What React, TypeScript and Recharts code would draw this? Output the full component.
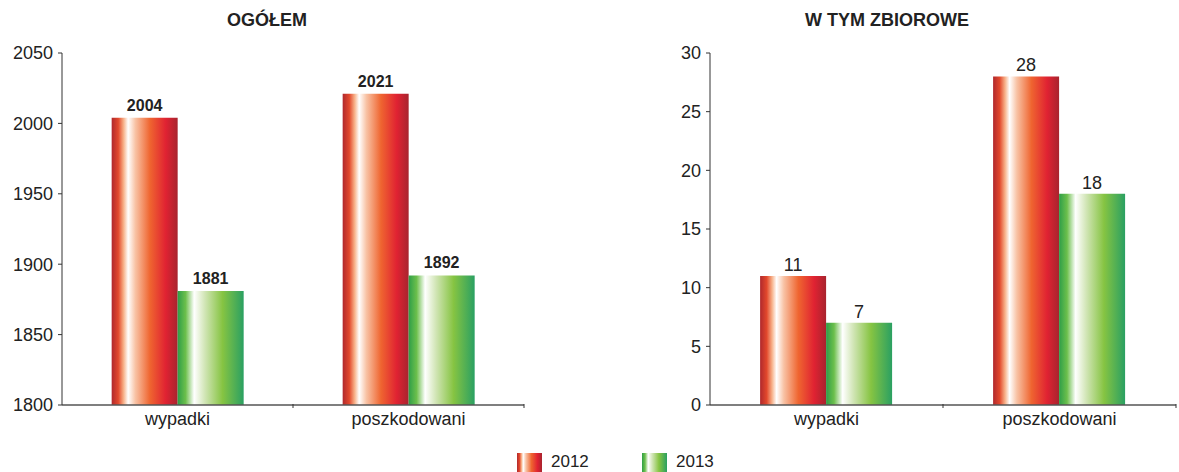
import { BarChart, Bar, XAxis, YAxis, LabelList } from "recharts";

const CATEGORIES = ["wypadki", "poszkodowani"];
const TOTAL_2012 = [2004, 2021];
const TOTAL_2013 = [1881, 1892];
const GROUP_2012 = [11, 28];
const GROUP_2013 = [7, 18];
const TOTAL_TICKS = [1800, 1850, 1900, 1950, 2000, 2050];
const GROUP_TICKS = [0, 5, 10, 15, 20, 25, 30];

const totalData = CATEGORIES.map((name, i) => ({
  name,
  y2012: TOTAL_2012[i],
  y2013: TOTAL_2013[i],
}));
const groupData = CATEGORIES.map((name, i) => ({
  name,
  y2012: GROUP_2012[i],
  y2013: GROUP_2013[i],
}));

const FONT = "Arial, 'Liberation Sans', sans-serif";

function Gradients({ id }: { id: string }) {
  return (
    <defs>
      <linearGradient id={`red-${id}`} x1="0" y1="0" x2="1" y2="0">
        <stop offset="0" stopColor="#b0282c" />
        <stop offset="0.1" stopColor="#e2482c" />
        <stop offset="0.18" stopColor="#f7b088" />
        <stop offset="0.25" stopColor="#ffffff" />
        <stop offset="0.36" stopColor="#f8c2a4" />
        <stop offset="0.58" stopColor="#ef6530" />
        <stop offset="0.82" stopColor="#e02232" />
        <stop offset="1" stopColor="#a8242e" />
      </linearGradient>
      <linearGradient id={`green-${id}`} x1="0" y1="0" x2="1" y2="0">
        <stop offset="0" stopColor="#2e9e48" />
        <stop offset="0.12" stopColor="#6cbf4c" />
        <stop offset="0.25" stopColor="#ffffff" />
        <stop offset="0.42" stopColor="#cfe4b2" />
        <stop offset="0.68" stopColor="#86c442" />
        <stop offset="1" stopColor="#2aa062" />
      </linearGradient>
    </defs>
  );
}

const tickStyle = { fontSize: 18, fill: "#222", fontFamily: FONT };

// category tick label plus Excel-style tick mark at the right edge of each band
function makeCategoryTick(band: number) {
  return function CategoryTick(props: any) {
    const { x, y, payload } = props;
    return (
      <g>
        <line
          x1={x + band / 2}
          x2={x + band / 2}
          y1={y - 8}
          y2={y - 4}
          stroke="#333"
        />
        <text
          x={x}
          y={y}
          dy="0.71em"
          textAnchor="middle"
          fontSize={18}
          fill="#222"
          fontFamily={FONT}
        >
          {payload.value}
        </text>
      </g>
    );
  };
}

const titleStyle = {
  position: "absolute" as const,
  top: 10,
  transform: "translateX(-50%)",
  fontSize: 18,
  fontWeight: "bold" as const,
  color: "#222",
  whiteSpace: "nowrap" as const,
};

export default function App() {
  return (
    <div
      style={{
        position: "absolute",
        left: 0,
        top: 0,
        width: 1179,
        height: 472,
        background: "#fff",
        fontFamily: FONT,
        overflow: "hidden",
      }}
    >
      <div style={{ ...titleStyle, left: 267 }}>OGÓŁEM</div>
      <div style={{ ...titleStyle, left: 887 }}>W TYM ZBIOROWE</div>

      <div style={{ position: "absolute", left: 0, top: 0 }}>
        <BarChart
          width={590}
          height={472}
          data={totalData}
          margin={{ top: 53, right: 66, bottom: 37, left: 0 }}
          barCategoryGap="21.5%"
          barGap={0}
        >
          <Gradients id="a" />
          <XAxis
            dataKey="name"
            tick={makeCategoryTick(231)}
            tickLine={false}
            axisLine={{ stroke: "#555", strokeWidth: 1.5 }}
            height={30}
            tickSize={6}
            tickMargin={1}
          />
          <YAxis
            width={62}
            domain={[1800, 2050]}
            ticks={TOTAL_TICKS}
            allowDataOverflow
            tick={tickStyle}
            tickSize={4}
            tickLine={{ stroke: "#333" }}
            axisLine={{ stroke: "#333" }}
            tickMargin={5}
          />
          <Bar dataKey="y2012" fill="url(#red-a)" isAnimationActive={false}>
            <LabelList
              dataKey="y2012"
              position="top"
              offset={7}
              style={{ fontSize: 16, fontWeight: "bold", fill: "#222", fontFamily: FONT }}
            />
          </Bar>
          <Bar dataKey="y2013" fill="url(#green-a)" isAnimationActive={false}>
            <LabelList
              dataKey="y2013"
              position="top"
              offset={7}
              style={{ fontSize: 16, fontWeight: "bold", fill: "#222", fontFamily: FONT }}
            />
          </Bar>
        </BarChart>
      </div>

      <div style={{ position: "absolute", left: 590, top: 0 }}>
        <BarChart
          width={589}
          height={472}
          data={groupData}
          margin={{ top: 53, right: 3, bottom: 37, left: 0 }}
          barCategoryGap="21.5%"
          barGap={0}
        >
          <Gradients id="b" />
          <XAxis
            dataKey="name"
            tick={makeCategoryTick(233)}
            tickLine={false}
            axisLine={{ stroke: "#555", strokeWidth: 1.5 }}
            height={30}
            tickSize={6}
            tickMargin={1}
          />
          <YAxis
            width={120}
            domain={[0, 30]}
            ticks={GROUP_TICKS}
            tick={tickStyle}
            tickSize={4}
            tickLine={{ stroke: "#333" }}
            axisLine={{ stroke: "#333" }}
            tickMargin={5}
          />
          <Bar dataKey="y2012" fill="url(#red-b)" isAnimationActive={false}>
            <LabelList
              dataKey="y2012"
              position="top"
              offset={5}
              style={{ fontSize: 18, fill: "#222", fontFamily: FONT }}
            />
          </Bar>
          <Bar dataKey="y2013" fill="url(#green-b)" isAnimationActive={false}>
            <LabelList
              dataKey="y2013"
              position="top"
              offset={5}
              style={{ fontSize: 18, fill: "#222", fontFamily: FONT }}
            />
          </Bar>
        </BarChart>
      </div>

      {/* legend */}
      <svg
        width={260}
        height={24}
        style={{ position: "absolute", left: 500, top: 448 }}
      >
        <Gradients id="l" />
        <rect x={17} y={5} width={25} height={19} fill="url(#red-l)" />
        <text x={51} y={19} fontSize={17} fill="#222" fontFamily={FONT}>
          2012
        </text>
        <rect x={142} y={5} width={25} height={19} fill="url(#green-l)" />
        <text x={176} y={19} fontSize={17} fill="#222" fontFamily={FONT}>
          2013
        </text>
      </svg>
    </div>
  );
}
